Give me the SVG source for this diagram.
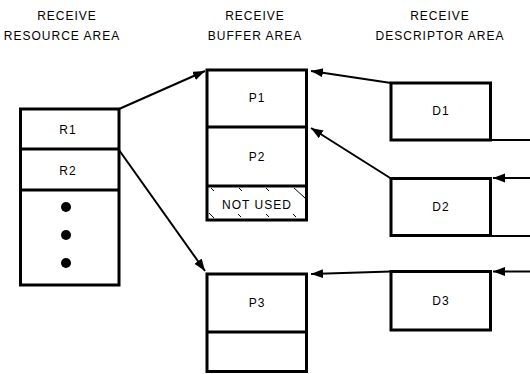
<svg xmlns="http://www.w3.org/2000/svg" width="530" height="374" viewBox="0 0 530 374">
<defs>
<style>
.t{font-family:"Liberation Sans",Arial,sans-serif;font-size:12px;fill:#000;text-anchor:middle;letter-spacing:1px}
.box{fill:#fff;stroke:#000;stroke-width:3}
.div{stroke:#000;stroke-width:3;fill:none}
.ln{stroke:#000;stroke-width:2;fill:none}
.h{stroke:#000;stroke-width:1;fill:none}
</style>
<marker id="ah" markerUnits="userSpaceOnUse" markerWidth="13" markerHeight="10" refX="12" refY="4.5" orient="auto">
<path d="M0,0 L12,4.5 L0,9 Z" fill="#000"/>
</marker>
</defs>
<rect width="530" height="374" fill="#fff"/>
<g id="headings">
<text class="t" x="67" y="20">RECEIVE</text>
<text class="t" x="62" y="40">RESOURCE AREA</text>
<text class="t" x="255" y="20">RECEIVE</text>
<text class="t" x="255" y="40">BUFFER AREA</text>
<text class="t" x="440" y="20">RECEIVE</text>
<text class="t" x="440" y="40">DESCRIPTOR AREA</text>
</g>
<g id="resource">
<rect class="box" x="20.5" y="109" width="98.5" height="176"/>
<line class="div" x1="20.5" y1="149" x2="119" y2="149"/>
<line class="div" x1="20.5" y1="190" x2="119" y2="190"/>
<text class="t" x="68" y="134">R1</text>
<text class="t" x="68" y="175">R2</text>
<circle cx="66" cy="207" r="5"/>
<circle cx="66" cy="235" r="5"/>
<circle cx="66" cy="263" r="5"/>
</g>
<g id="buffer1">
<rect class="box" x="207" y="70" width="99.5" height="150"/>
<line class="div" x1="207" y1="127" x2="306.5" y2="127"/>
<line class="div" x1="207" y1="186" x2="306.5" y2="186"/>
<text class="t" x="257" y="102">P1</text>
<text class="t" x="257" y="161">P2</text>
<text class="t" x="257" y="209">NOT USED</text>
<line class="h" x1="211" y1="188" x2="214" y2="191"/>
<line class="h" x1="239" y1="188" x2="242" y2="191"/>
<line class="h" x1="266" y1="188" x2="269" y2="191"/>
<line class="h" x1="294" y1="188" x2="305" y2="198"/>
<line class="h" x1="209" y1="213" x2="214" y2="218"/>
<line class="h" x1="238" y1="214" x2="241" y2="217"/>
<line class="h" x1="266" y1="214" x2="269" y2="217"/>
<line class="h" x1="293" y1="214" x2="296" y2="217"/>
</g>
<g id="buffer2">
<rect class="box" x="207" y="274" width="99.5" height="97.5"/>
<line class="div" x1="207" y1="332" x2="306.5" y2="332"/>
<text class="t" x="257" y="307">P3</text>
</g>
<g id="d1">
<rect class="box" x="391" y="83" width="99.5" height="57"/>
<text class="t" x="441" y="115">D1</text>
</g>
<g id="d2">
<rect class="box" x="391" y="178.5" width="99.5" height="57"/>
<text class="t" x="441" y="211">D2</text>
</g>
<g id="d3">
<rect class="box" x="391" y="271.5" width="99.5" height="58.5"/>
<text class="t" x="441" y="305">D3</text>
</g>
<g id="connectors">
<line class="ln" x1="119" y1="109" x2="205" y2="71" marker-end="url(#ah)"/>
<line class="ln" x1="119" y1="150" x2="205" y2="271" marker-end="url(#ah)"/>
<line class="ln" x1="391" y1="83" x2="311" y2="71" marker-end="url(#ah)"/>
<line class="ln" x1="391" y1="178.5" x2="311" y2="128" marker-end="url(#ah)"/>
<line class="ln" x1="391" y1="271.5" x2="311" y2="274" marker-end="url(#ah)"/>
<line class="ln" x1="490" y1="140" x2="530" y2="140"/>
<line class="ln" x1="530" y1="178" x2="493" y2="178" marker-end="url(#ah)"/>
<line class="ln" x1="490" y1="236" x2="530" y2="236"/>
<line class="ln" x1="530" y1="271.5" x2="493" y2="271.5" marker-end="url(#ah)"/>
</g>
</svg>
